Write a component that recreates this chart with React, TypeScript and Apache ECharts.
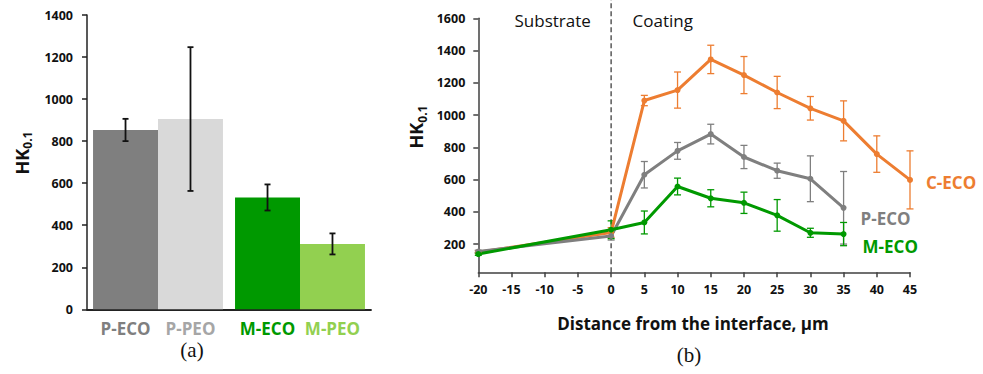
import React, { useEffect, useRef } from 'react';
import * as echarts from 'echarts';

// ---------- (a) bar chart data ----------
const barCategories = ['P', 'M'];
const ecoNames = ['P-ECO', 'M-ECO'];
const peoNames = ['P-PEO', 'M-PEO'];
const ecoValues = [853, 532];
const ecoErrors = [53, 62];
const peoValues = [905, 311];
const peoErrors = [342, 50];
const ecoColors = ['#7f7f7f', '#009900'];
const peoColors = ['#d9d9d9', '#92d050'];
const ecoLabelColors = ['#7f7f7f', '#009900'];
const peoLabelColors = ['#a6a6a6', '#92d050'];

// ---------- (b) profile data ----------
const distances = [-20, 0, 5, 10, 15, 20, 25, 30, 35, 40, 45];
const cEcoValues = [150, 272, 1090, 1155, 1345, 1248, 1140, 1042, 964, 758, 598];
const cEcoErrors = [8, 30, 32, 112, 88, 115, 100, 73, 124, 113, 180];
const pEcoValues = [154, 250, 630, 778, 882, 740, 655, 605, 425];
const pEcoErrors = [8, 25, 82, 52, 61, 72, 47, 142, 225];
const mEcoValues = [138, 289, 334, 557, 484, 456, 378, 270, 262];
const mEcoErrors = [8, 55, 71, 52, 53, 66, 98, 28, 72];
const rightTicks = [200, 400, 600, 800, 1000, 1200, 1400, 1600];
const interfaceLine = [[0, 25, 1715]];

const FONT = 'Open Sans';
const ORANGE = '#ed7d31';
const GREY = '#7f7f7f';
const GREEN = '#009900';
const GAP = 0.085;

function barErrorSeries(values: number[], errors: number[], sign: number) {
  return {
    type: 'custom',
    xAxisIndex: 0,
    yAxisIndex: 0,
    z: 5,
    silent: true,
    data: values.map((v, i) => [i, v - errors[i], v + errors[i]]),
    renderItem: (params: any, api: any) => {
      const catW = api.size([1, 0])[0];
      const barW = (catW * (1 - GAP)) / 2;
      const x = api.coord([api.value(0), 0])[0] + (sign * barW) / 2;
      const lo = api.coord([api.value(0), api.value(1)])[1];
      const hi = api.coord([api.value(0), api.value(2)])[1];
      const st = { stroke: '#111', lineWidth: 1.8 };
      return {
        type: 'group',
        children: [
          { type: 'line', shape: { x1: x, y1: lo, x2: x, y2: hi }, style: st },
          { type: 'line', shape: { x1: x - 3, y1: lo, x2: x + 3, y2: lo }, style: st },
          { type: 'line', shape: { x1: x - 3, y1: hi, x2: x + 3, y2: hi }, style: st },
        ],
      };
    },
  };
}

function lineErrorSeries(values: number[], errors: number[], color: string) {
  return {
    type: 'custom',
    xAxisIndex: 1,
    yAxisIndex: 1,
    z: 1,
    silent: true,
    clip: false,
    data: values.map((v, i) => [distances[i], v - errors[i], v + errors[i]]),
    renderItem: (params: any, api: any) => {
      const lo = api.coord([api.value(0), api.value(1)]);
      const hi = api.coord([api.value(0), api.value(2)]);
      const x = lo[0];
      const st = { stroke: color, lineWidth: 1.3 };
      return {
        type: 'group',
        children: [
          { type: 'line', shape: { x1: x, y1: lo[1], x2: x, y2: hi[1] }, style: st },
          { type: 'line', shape: { x1: x - 3.5, y1: lo[1], x2: x + 3.5, y2: lo[1] }, style: st },
          { type: 'line', shape: { x1: x - 3.5, y1: hi[1], x2: x + 3.5, y2: hi[1] }, style: st },
        ],
      };
    },
  };
}

function lineSeries(name: string, values: number[], color: string, offset: number[]) {
  return {
    type: 'line',
    name,
    xAxisIndex: 1,
    yAxisIndex: 1,
    z: 3,
    data: values.map((v, i) => [distances[i], v]),
    symbol: 'circle',
    symbolSize: 6,
    itemStyle: { color },
    lineStyle: { color, width: 3 },
    endLabel: {
      show: true,
      formatter: name,
      color,
      fontFamily: FONT,
      fontWeight: 'bold',
      fontSize: 17,
      offset,
    },
  };
}

export default function App() {
  const ref = useRef<HTMLDivElement>(null);

  useEffect(() => {
    if (!ref.current) return;
    const chart = echarts.init(ref.current, null, { renderer: 'svg' });
    const tickLabel = {
      fontFamily: FONT,
      fontWeight: 'bold',
      fontSize: 12.5,
      color: '#111',
      formatter: (v: number) => String(v),
    };
    const barLabel = {
      show: true,
      position: 'bottom',
      distance: 10,
      fontFamily: FONT,
      fontWeight: 'bold',
      fontSize: 17,
      lineHeight: 18,
    };

    const option: any = {
      animation: false,
      backgroundColor: '#fff',
      grid: [
        { left: 87, top: 15, width: 284, height: 294.3, containLabel: false },
        { left: 478.3, top: 18.3, width: 431.7, height: 254, containLabel: false },
      ],
      xAxis: [
        {
          type: 'category',
          gridIndex: 0,
          data: barCategories,
          axisLine: { show: true, lineStyle: { color: '#222', width: 1.8 } },
          axisTick: { show: false },
          axisLabel: { show: false },
          splitLine: { show: false },
        },
        {
          type: 'value',
          gridIndex: 1,
          min: -20,
          max: 45,
          interval: 5,
          axisLine: { show: true, onZero: false, lineStyle: { color: '#404040', width: 1.5 } },
          axisTick: { show: true, length: 5, lineStyle: { color: '#404040', width: 1.5 } },
          axisLabel: { ...tickLabel, margin: 11 },
          splitLine: { show: false },
        },
      ],
      yAxis: [
        {
          type: 'value',
          gridIndex: 0,
          min: 0,
          max: 1400,
          interval: 200,
          axisLine: { show: true, lineStyle: { color: '#222', width: 1.5 } },
          axisTick: { show: true, length: 5, lineStyle: { color: '#222', width: 1.5 } },
          axisLabel: { ...tickLabel, margin: 14 },
          splitLine: { show: false },
        },
        {
          type: 'value',
          gridIndex: 1,
          min: 25,
          max: 1600,
          axisLine: { show: true, onZero: false, lineStyle: { color: '#404040', width: 1.5 } },
          axisTick: { show: true, length: 5, customValues: rightTicks, lineStyle: { color: '#404040', width: 1.5 } },
          axisLabel: { ...tickLabel, margin: 13, customValues: rightTicks },
          splitLine: { show: false },
        },
      ],
      series: [
        {
          type: 'bar',
          xAxisIndex: 0,
          yAxisIndex: 0,
          barGap: '0%',
          barCategoryGap: GAP * 100 + '%',
          data: ecoValues.map((v, i) => ({
            value: v,
            itemStyle: { color: ecoColors[i] },
            label: { color: ecoLabelColors[i] },
          })),
          label: { ...barLabel, formatter: (p: any) => ecoNames[p.dataIndex] },
        },
        {
          type: 'bar',
          xAxisIndex: 0,
          yAxisIndex: 0,
          barGap: '0%',
          barCategoryGap: GAP * 100 + '%',
          data: peoValues.map((v, i) => ({
            value: v,
            itemStyle: { color: peoColors[i] },
            label: { color: peoLabelColors[i] },
          })),
          label: { ...barLabel, formatter: (p: any) => peoNames[p.dataIndex] },
        },
        barErrorSeries(ecoValues, ecoErrors, -1),
        barErrorSeries(peoValues, peoErrors, 1),
        {
          type: 'custom',
          xAxisIndex: 1,
          yAxisIndex: 1,
          z: 0,
          silent: true,
          clip: false,
          data: interfaceLine,
          renderItem: (params: any, api: any) => {
            const lo = api.coord([api.value(0), api.value(1)]);
            const hi = api.coord([api.value(0), api.value(2)]);
            return {
              type: 'line',
              shape: { x1: lo[0], y1: lo[1], x2: hi[0], y2: hi[1] },
              style: { stroke: '#595959', lineWidth: 1.5, lineDash: [5, 3] },
            };
          },
        },
        lineErrorSeries(cEcoValues, cEcoErrors, ORANGE),
        lineErrorSeries(pEcoValues, pEcoErrors, GREY),
        lineErrorSeries(mEcoValues, mEcoErrors, GREEN),
        lineSeries('C-ECO', cEcoValues, ORANGE, [8, 3]),
        lineSeries('P-ECO', pEcoValues, GREY, [9, 11]),
        lineSeries('M-ECO', mEcoValues, GREEN, [11, 12]),
      ],
      graphic: [
        {
          type: 'text',
          x: 21.5,
          y: 153,
          rotation: Math.PI / 2,
          style: {
            text: '{a|HK}{b|0.1}',
            align: 'center',
            verticalAlign: 'middle',
            rich: {
              a: { fontFamily: FONT, fontWeight: 'bold', fontSize: 18, fill: '#111', lineHeight: 24 },
              b: { fontFamily: FONT, fontWeight: 'bold', fontSize: 12, fill: '#111', lineHeight: 24, verticalAlign: 'bottom' },
            },
          },
        },
        {
          type: 'text',
          x: 416,
          y: 127,
          rotation: Math.PI / 2,
          style: {
            text: '{a|HK}{b|0.1}',
            align: 'center',
            verticalAlign: 'middle',
            rich: {
              a: { fontFamily: FONT, fontWeight: 'bold', fontSize: 18, fill: '#111', lineHeight: 24 },
              b: { fontFamily: FONT, fontWeight: 'bold', fontSize: 12, fill: '#111', lineHeight: 24, verticalAlign: 'bottom' },
            },
          },
        },
        {
          type: 'text',
          x: 552.7,
          y: 20.7,
          style: { text: 'Substrate', fontFamily: FONT, fontSize: 17, fill: '#111', align: 'center', verticalAlign: 'middle' },
        },
        {
          type: 'text',
          x: 662.7,
          y: 20.7,
          style: { text: 'Coating', fontFamily: FONT, fontSize: 17, fill: '#111', align: 'center', verticalAlign: 'middle' },
        },
        {
          type: 'text',
          x: 693,
          y: 323,
          style: {
            text: 'Distance from the interface, µm',
            fontFamily: FONT,
            fontWeight: 'bold',
            fontSize: 17,
            fill: '#111',
            align: 'center',
            verticalAlign: 'middle',
          },
        },
        {
          type: 'text',
          x: 192,
          y: 350,
          style: { text: '(a)', fontFamily: 'Liberation Serif', fontSize: 21, fill: '#111', align: 'center', verticalAlign: 'middle' },
        },
        {
          type: 'text',
          x: 689,
          y: 355,
          style: { text: '(b)', fontFamily: 'Liberation Serif', fontSize: 21, fill: '#111', align: 'center', verticalAlign: 'middle' },
        },
      ],
    };

    chart.setOption(option);
    return () => chart.dispose();
  }, []);

  return (
    <div
      ref={ref}
      style={{ position: 'fixed', left: 0, top: 0, width: 983, height: 374, background: '#fff' }}
    />
  );
}
